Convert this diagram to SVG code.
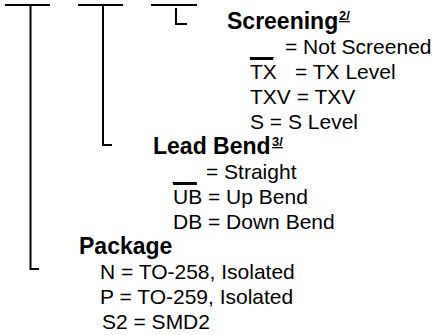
<svg xmlns="http://www.w3.org/2000/svg" width="435" height="335" viewBox="0 0 435 335">
<style>
.ln{stroke:#000;stroke-width:2;fill:none}
.t{font-family:"Liberation Sans",Arial,sans-serif;font-size:21px;fill:#000}
.h{font-family:"Liberation Sans",Arial,sans-serif;font-size:23px;font-weight:bold;fill:#000}
.s{font-family:"Liberation Sans",Arial,sans-serif;font-size:13px;font-weight:bold;fill:#000;text-decoration:underline}
</style>
<rect width="435" height="335" fill="#fff"/>
<g id="connectors">
<path class="ln" d="M5 5H50M30.5 5V269H39"/>
<path class="ln" d="M78 5H123M103 5V145H112"/>
<path class="ln" d="M151 5H197M176 8V24H187"/>
</g>
<g id="screening">
<text class="h" x="227" y="29">Screening</text>
<text class="s" x="339" y="20">2/</text>
<text class="t" x="250" y="54">__</text>
<text class="t" x="285" y="54">= Not Screened</text>
<line class="ln" x1="250" y1="59" x2="273" y2="59" stroke-width="1.5"/>
<text class="t" x="250" y="79">TX</text>
<text class="t" x="295" y="79">= TX Level</text>
<text class="t" x="250" y="104">TXV = TXV</text>
<text class="t" x="250" y="129">S = S Level</text>
</g>
<g id="lead-bend">
<text class="h" x="153" y="154">Lead Bend</text>
<text class="s" x="272" y="146">3/</text>
<text class="t" x="173" y="179">__</text>
<text class="t" x="206" y="179">= Straight</text>
<line class="ln" x1="173" y1="184" x2="197" y2="184" stroke-width="1.5"/>
<text class="t" x="173" y="204">UB = Up Bend</text>
<text class="t" x="173" y="229">DB = Down Bend</text>
</g>
<g id="package">
<text class="h" x="79" y="254">Package</text>
<text class="t" x="100" y="279">N = TO-258, Isolated</text>
<text class="t" x="100" y="304">P = TO-259, Isolated</text>
<text class="t" x="102" y="329">S2 = SMD2</text>
</g>
</svg>
